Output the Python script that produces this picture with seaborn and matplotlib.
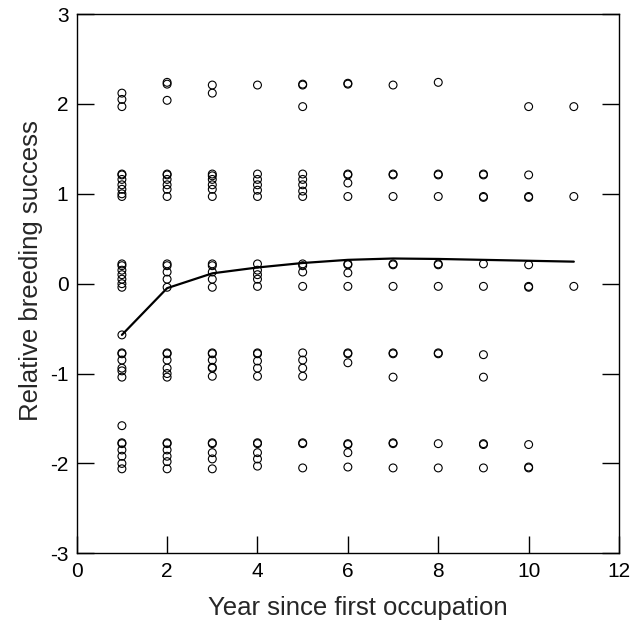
import numpy as np
import pandas as pd
import matplotlib
matplotlib.use("Agg")
import matplotlib.pyplot as plt
import seaborn as sns

# relative breeding success of each territory, grouped by year since first occupation
years = [1, 2, 3, 4, 5, 6, 7, 8, 9, 10, 11]
success_by_year = [
    [2.12, 2.05, 1.97, 1.22, 1.21, 1.16, 1.10, 1.05, 1.00, 0.97,
     0.22, 0.20, 0.15, 0.10, 0.05, 0.00, -0.04, -0.57,
     -0.77, -0.78, -0.85, -0.94, -0.97, -1.04, -1.58,
     -1.77, -1.78, -1.85, -1.92, -2.00, -2.06],
    [2.24, 2.22, 2.04, 1.22, 1.21, 1.16, 1.10, 1.05, 0.97,
     0.22, 0.20, 0.13, 0.05, -0.04,
     -0.77, -0.78, -0.85, -0.94, -1.00, -1.04,
     -1.77, -1.78, -1.85, -1.92, -1.98, -2.06],
    [2.21, 2.12, 1.22, 1.20, 1.16, 1.10, 1.05, 0.97,
     0.22, 0.20, 0.13, 0.05, -0.04,
     -0.77, -0.78, -0.85, -0.93, -0.94, -1.03,
     -1.77, -1.78, -1.88, -1.95, -2.06],
    [2.21, 1.22, 1.16, 1.10, 1.04, 0.97,
     0.22, 0.15, 0.10, 0.05, -0.03,
     -0.77, -0.78, -0.86, -0.94, -1.03,
     -1.77, -1.78, -1.88, -1.95, -2.03],
    [2.22, 2.21, 1.97, 1.22, 1.16, 1.10, 1.03, 0.97,
     0.22, 0.20, 0.13, -0.03,
     -0.77, -0.85, -0.94, -1.03,
     -1.78, -1.77, -2.05],
    [2.23, 2.22, 1.22, 1.21, 1.12, 0.97,
     0.22, 0.21, 0.12, -0.03,
     -0.78, -0.77, -0.88,
     -1.78, -1.79, -1.88, -2.04],
    [2.21, 1.22, 1.21, 0.97, 0.22, 0.21, -0.03,
     -0.78, -0.77, -1.04, -1.78, -1.77, -2.05],
    [2.24, 1.22, 1.21, 0.97, 0.22, 0.21, -0.03,
     -0.78, -0.77, -1.78, -2.05],
    [1.22, 1.21, 0.97, 0.96, 0.22, -0.03,
     -0.79, -1.04, -1.79, -1.78, -2.05],
    [1.97, 1.21, 0.97, 0.96, 0.21, -0.03, -0.04,
     -1.79, -2.05, -2.04],
    [1.97, 0.97, -0.03],
]
# fitted mean curve
fit_success = [-0.57, -0.05, 0.115, 0.18, 0.23, 0.265, 0.28, 0.275, 0.265, 0.255, 0.245]

rows = []
for yr, vals in zip(years, success_by_year):
    for v in vals:
        rows.append((yr, v))
pts = pd.DataFrame(rows, columns=["year", "success"])
fit = pd.DataFrame({"year": years, "success": fit_success})

sns.set_theme(style="white")
plt.rcParams['font.family'] = ['Liberation Sans', 'DejaVu Sans']

fig = plt.figure(figsize=(6.42, 6.21), dpi=100)
ax = fig.add_axes([0.1195, 0.109, 0.8447, 0.8684])

sns.scatterplot(data=pts, x="year", y="success", ax=ax, marker="o", s=32,
                facecolor="none", edgecolor="black", linewidth=0.8, zorder=3)
sns.lineplot(data=fit, x="year", y="success", ax=ax, color="black",
             linewidth=1.6, zorder=2)

ax.set_xlim(0, 12)
ax.set_ylim(-3, 3)
ax.set_xticks(range(0, 13, 2))
ax.set_yticks(range(-3, 4))
ax.set_yticklabels(["-3", "-2", "-1", "0", "1", "2", "3"])

for sp in ax.spines.values():
    sp.set_color("black")
    sp.set_linewidth(1.0)

ax.tick_params(axis="both", direction="in", length=12, width=1.0,
               colors="black", labelsize=15, pad=6)
ax.tick_params(axis="y", right=True, left=True)
ax.tick_params(axis="x", top=False, bottom=True)

ax.set_xlabel("Year since first occupation", fontsize=18.5, labelpad=11)
ax.set_ylabel("Relative breeding success", fontsize=18.5, labelpad=5)
ax.xaxis.label.set_x(0.519)
ax.yaxis.label.set_y(0.525)

fig.savefig("out.png", dpi=100)
